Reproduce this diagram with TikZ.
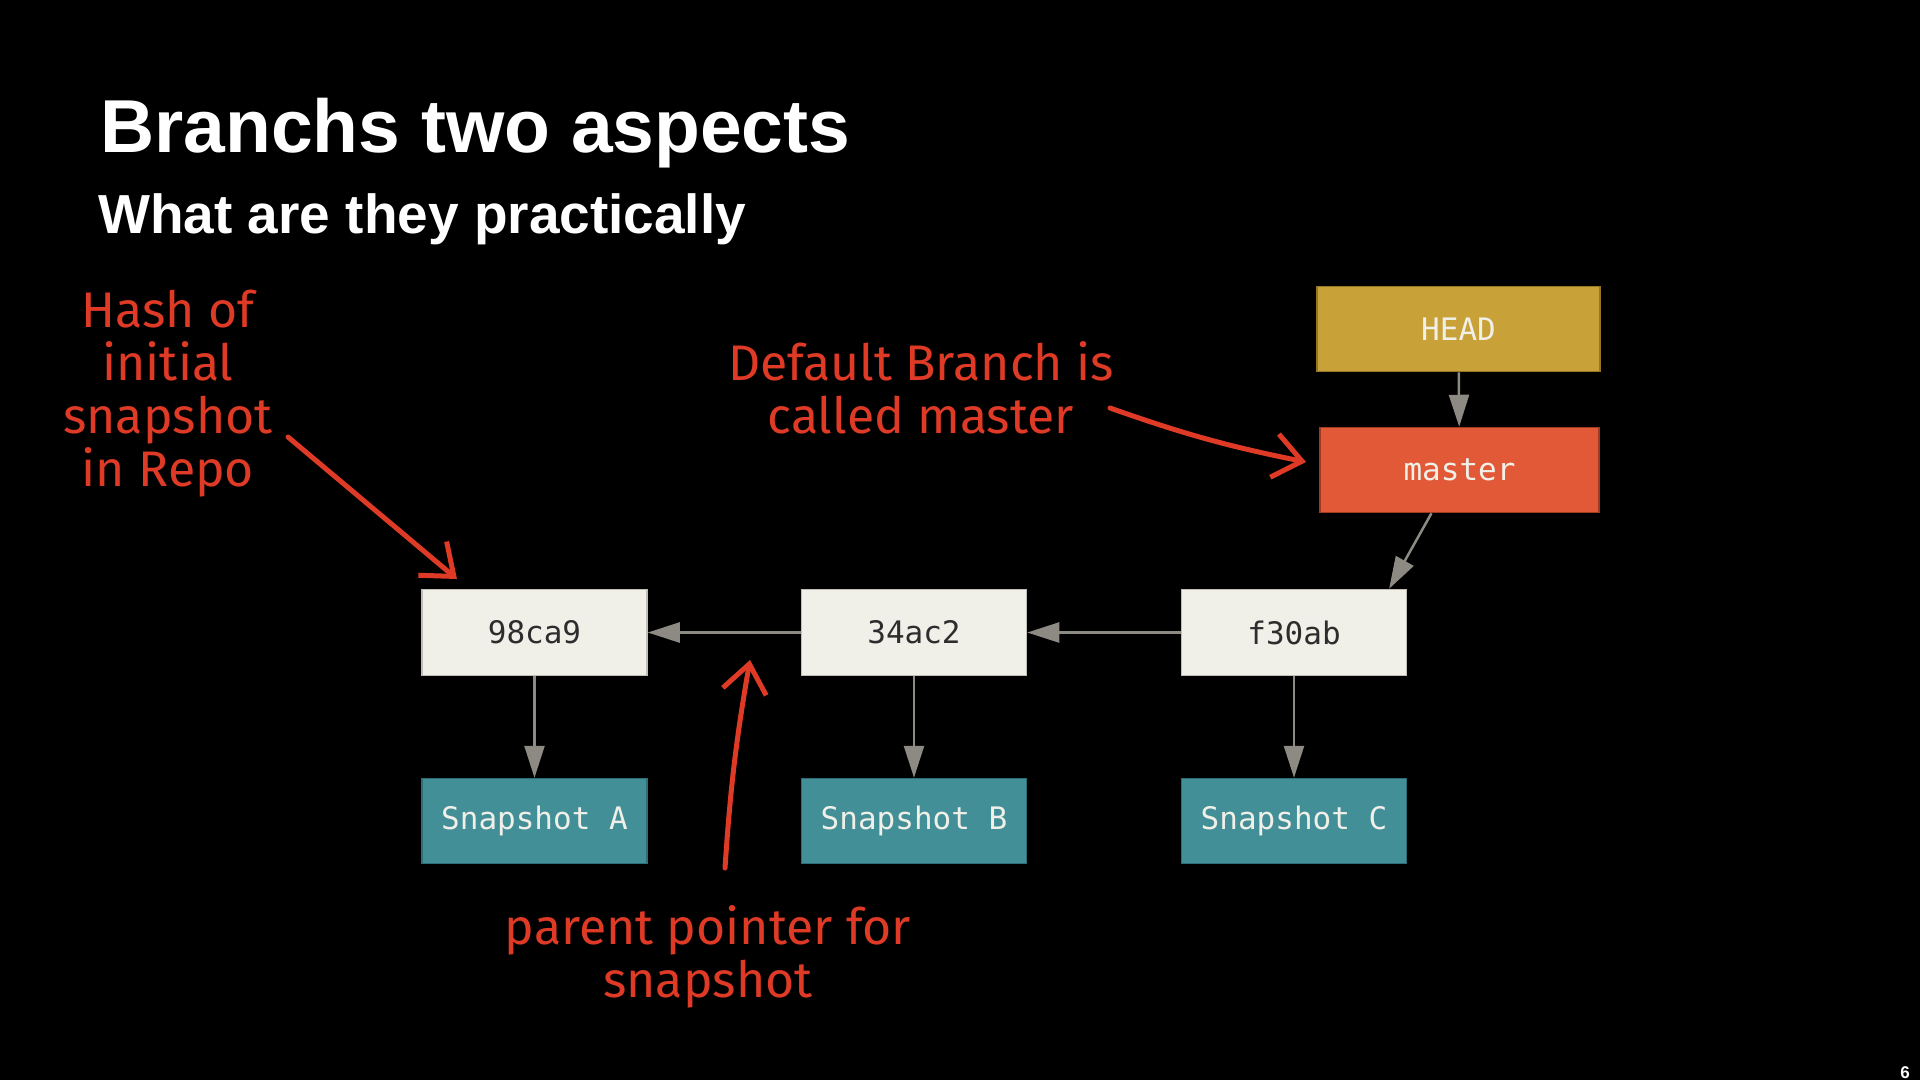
\documentclass[tikz,border=0pt]{standalone}
\usepackage{fontspec}
\setmainfont{Liberation Sans}
\newfontfamily\monofont{DejaVu Sans Mono}
\newfontfamily\handfont{Fira Sans}
\usetikzlibrary{arrows.meta,calc}

\definecolor{commitfill}{RGB}{240,239,232}
\definecolor{commitdraw}{RGB}{192,190,182}
\definecolor{snapfill}{RGB}{66,143,152}
\definecolor{snapdraw}{RGB}{46,110,118}
\definecolor{headfill}{RGB}{200,161,56}
\definecolor{headdraw}{RGB}{150,118,38}
\definecolor{masterfill}{RGB}{226,89,55}
\definecolor{masterdraw}{RGB}{160,58,32}
\definecolor{linkgray}{RGB}{141,138,132}
\definecolor{inkred}{RGB}{222,58,38}
\definecolor{boxtext}{RGB}{240,239,232}
\definecolor{hashtext}{RGB}{45,45,45}

\begin{document}
\begin{tikzpicture}[x=1pt,y=-1pt,
  box/.style={rectangle, inner sep=0pt, line width=1.5pt,
    font=\monofont\fontsize{31}{36}\selectfont},
  commit/.style={box, fill=commitfill, draw=commitdraw, text=hashtext,
    minimum width=225pt, minimum height=86pt},
  snap/.style={box, fill=snapfill, draw=snapdraw, text=boxtext,
    minimum width=225pt, minimum height=85pt},
  refbox/.style={box, text=boxtext, minimum height=85pt},
  link/.style={draw=linkgray, line width=2.5pt,
    -{Triangle[length=32pt,width=20pt]}},
  note/.style={text=inkred, font=\handfont\fontsize{50}{53}\selectfont,
    align=center, inner sep=0pt, anchor=base},
  ink/.style={draw=inkred, line width=5pt, line cap=round, line join=round,
    -{Straight Barb[length=28pt,width=44pt,line width=5pt]}},
]
% page background
\fill[black] (0,0) rectangle (1920,1080);
\useasboundingbox (0,0) rectangle (1920,1080);

% headings
\node[anchor=base west, inner sep=0pt, text=white,
  font=\bfseries\fontsize{75}{80}\selectfont] (title) at (100,152) {Branchs two aspects};
\node[anchor=base west, inner sep=0pt, text=white,
  font=\bfseries\fontsize{55}{60}\selectfont] (subtitle) at (98,233) {What are they practically};

% commits
\node[commit] (c98) at (534.5,632.5) {98ca9};
\node[commit] (c34) at (914,632.5) {34ac2};
\node[commit] (cf3) at (1294,632.5) {f30ab};

% snapshots
\node[snap] (snapA) at (534.5,821) {Snapshot A};
\node[snap] (snapB) at (914,821) {Snapshot B};
\node[snap] (snapC) at (1294,821) {Snapshot C};

% references
\node[refbox, fill=headfill, draw=headdraw, minimum width=283pt] (head) at (1458.5,329) {HEAD};
\node[refbox, fill=masterfill, draw=masterdraw, minimum width=279pt] (master) at (1459.5,470) {master};

% pointers
\draw[link] (c34) -- (c98);
\draw[link] (cf3) -- (c34);
\draw[link] (c98) -- (snapA);
\draw[link] (c34) -- (snapB);
\draw[link] (cf3) -- (snapC);
\draw[link] (head) -- (master);
\draw[link] ($(master.south west)!0.4!(master.south east)$) -- ($(cf3.north west)!0.92!(cf3.north east)$);

% hand-written notes (base anchor sits on the last line)
\node[note] (hashnote) at (168,486) {Hash of\\initial\\snapshot\\in Repo};
\node[note] (branchnote) at (921,433) {Default Branch is\\called master};
\node[note] (parentnote) at (708,997) {parent pointer for\\snapshot};

\coordinate (hashfrom) at (288,437);
\coordinate (hashto) at (457,579);
\coordinate (branchfrom) at (1110,408);
\coordinate (branchto) at (1306,462);
\coordinate (parentfrom) at (725,868);
\coordinate (parentto) at (750,660);

\draw[ink] (hashfrom) -- (hashto);
\draw[ink] (branchfrom) to[bend right=4] (branchto);
\draw[ink] (parentfrom) to[bend left=3] (parentto);

% slide number
\node[anchor=base east, inner sep=0pt, text=white,
  font=\bfseries\fontsize{17}{20}\selectfont] (pagenum) at (1910,1078) {6};
\end{tikzpicture}
\end{document}
